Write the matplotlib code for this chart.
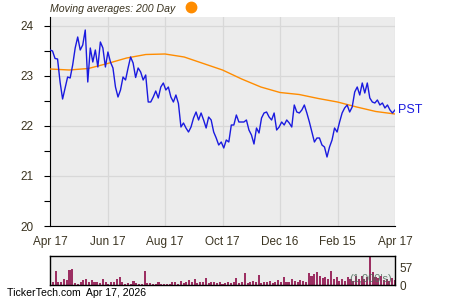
import numpy as np
import matplotlib
matplotlib.use("Agg")
import matplotlib.pyplot as plt
from matplotlib.lines import Line2D

plt.rcParams['font.family'] = ['Liberation Sans', 'DejaVu Sans']

ticker = "PST"
x_tick_labels = ["Apr 17", "Jun 17", "Aug 17", "Oct 17", "Dec 16", "Feb 15", "Apr 17"]
y_ticks = [20, 21, 22, 23, 24]

price = [23.52, 23.50, 23.35, 23.34, 22.88, 22.54, 22.76, 22.98, 22.96, 23.22,
         23.56, 23.78, 23.52, 23.62, 23.92, 22.88, 23.56, 23.28, 23.52, 23.18,
         23.68, 23.56, 23.18, 23.48, 23.28, 23.16, 22.78, 22.58, 22.72, 22.98,
         22.92, 23.16, 23.38, 23.26, 22.97, 23.16, 23.08, 22.92, 23.02, 22.48,
         22.48, 22.58, 22.70, 22.56, 22.78, 22.86, 22.72, 22.78, 22.58, 22.48,
         22.62, 22.45, 21.98, 22.06, 21.96, 21.88, 21.98, 22.16, 22.28, 22.12,
         22.26, 22.12, 21.96, 22.18, 22.12, 21.88, 21.76, 21.62, 21.68, 21.56,
         21.72, 21.68, 22.02, 22.02, 22.22, 22.08, 22.08, 22.08, 22.12, 21.92,
         21.82, 21.64, 21.96, 21.86, 22.16, 22.26, 22.28, 22.18, 22.12, 22.26,
         21.92, 21.98, 22.08, 22.02, 22.12, 22.06, 21.98, 22.42, 22.28, 22.26,
         22.32, 22.42, 22.26, 22.08, 21.88, 21.68, 21.76, 21.76, 21.62, 21.58,
         21.38, 21.58, 21.72, 21.96, 21.88, 22.08, 22.26, 22.36, 22.42, 22.28,
         22.38, 22.68, 22.78, 22.62, 22.86, 22.66, 22.86, 22.56, 22.48, 22.46,
         22.52, 22.42, 22.46, 22.36, 22.42, 22.32, 22.26, 22.32]

ma200 = [23.14, 23.12, 23.15, 23.25, 23.36, 23.43, 23.44, 23.38, 23.25, 23.12,
         22.94, 22.78, 22.67, 22.63, 22.55, 22.48, 22.38, 22.29, 22.24]

volume = [16, 8, 44, 10, 8, 19, 16, 48, 50, 5, 4, 8, 16, 18, 10, 16, 9, 10, 6, 19,
          8, 3, 10, 9, 18, 26, 8, 3, 5, 4, 12, 5, 4, 3, 44, 5, 6, 4, 3, 10,
          3, 2, 3, 4, 10, 8, 4, 12, 5, 10, 15, 8, 19, 6, 10, 8, 22, 6, 10, 8,
          5, 10, 4, 6, 8, 5, 10, 22, 6, 8, 37, 6, 10, 12, 8, 32, 6, 10, 8, 12,
          6, 8, 16, 8, 26, 8, 10, 20, 12, 8, 16, 12, 10, 38, 30, 35, 42, 30, 22, 25,
          20, 45, 18, 26, 14, 20, 12, 25, 20, 14, 28, 18, 30, 20, 25, 90, 40, 26, 22, 28,
          16, 20, 12, 22, 15]

span = 365.0
txt_col = "#3a3320"

fig = plt.figure(figsize=(4.5, 3.0), dpi=100)
ax = fig.add_axes([50/450, 1-226/300, 345/450, 209/300])
ax.set_facecolor("#ececec")

px = np.linspace(0, span, len(price))
mx = np.linspace(0, span, len(ma200))
ax.plot(mx, ma200, color="#ff8c00", lw=1.0, zorder=3)
ax.plot(px, price, color="#1a1adf", lw=1.0, zorder=4)

ax.set_xlim(0, span)
ax.set_ylim(20, 24.18)
xt = np.linspace(0, span, len(x_tick_labels))
ax.set_xticks(xt)
ax.set_xticklabels(x_tick_labels)
ax.set_yticks(y_ticks)
ax.set_yticks([20.5, 21.5, 22.5, 23.5], minor=True)
ax.grid(True, color="#d8d8d8", lw=0.9)
ax.set_axisbelow(True)
for s in ["top", "right"]:
    ax.spines[s].set_visible(False)
ax.spines["left"].set_color("black")
ax.spines["bottom"].set_color("black")
ax.tick_params(axis="y", which="both", direction="out", length=4, width=0.8,
               labelsize=8.5, labelcolor=txt_col, pad=8)
ax.tick_params(axis="x", length=0, labelsize=8.5, labelcolor=txt_col, pad=7)

ax.text(1.008, price[-1], ticker, transform=ax.get_yaxis_transform(),
        color="#1a1adf", fontsize=9, va="center", ha="left")

fig.text(50/450, 1-9/300, "Moving averages: 200 Day", fontsize=7.6, style="italic",
         color=txt_col, va="center", ha="left")
fig.add_artist(Line2D([191/450], [1-7/300], marker="o", markersize=7.5,
                      color="#ff8c00", transform=fig.transFigure))

vax = fig.add_axes([50/450, 1-285/300, 345/450, 29/300])
vax.set_facecolor("#ececec")
vx = np.linspace(0, span, len(volume))
vax.bar(vx, volume, width=span/len(volume)*0.75, color="#9c2f62", align="center")
vax.set_xlim(0, span)
vax.set_ylim(0, 92)
vax.set_xticks([])
vax.yaxis.tick_right()
vax.set_yticks([0, 57])
vax.set_yticklabels(["0", "57"])
vax.tick_params(axis="y", length=0, labelsize=8.5, labelcolor=txt_col, pad=3)
for s in vax.spines.values():
    s.set_color("black")
    s.set_linewidth(1.0)
vax.text(0.99, 0.05, "(1,000's)", transform=vax.transAxes, ha="right", va="bottom",
         fontsize=8, color="#4d6b5a", alpha=0.85)

fig.text(7/450, 1-293/300, "TickerTech.com  Apr 17, 2026", fontsize=7.6,
         color="black", va="center", ha="left")

fig.savefig("out.png", dpi=100)
